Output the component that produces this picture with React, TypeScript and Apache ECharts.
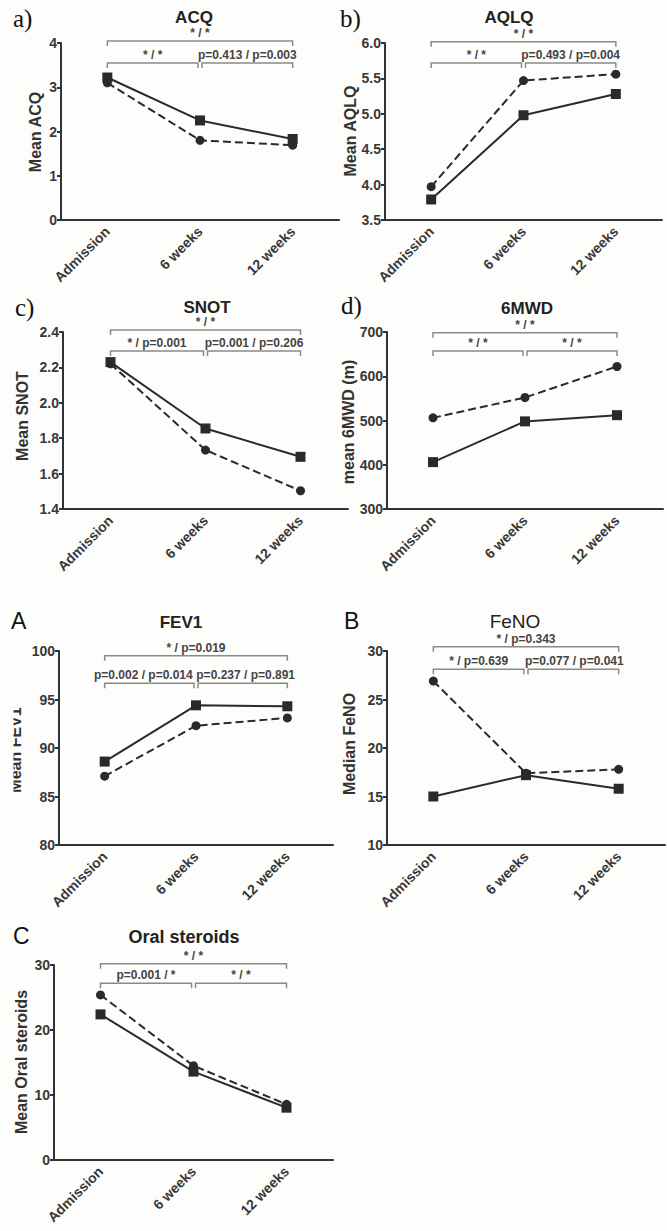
import React, { useEffect, useRef } from 'react';
import * as echarts from 'echarts';

// ---------- data ----------
const categories = ['Admission', '6 weeks', '12 weeks'];

const acqSolid = [3.22, 2.25, 1.83];
const acqDashed = [3.1, 1.8, 1.69];
const acqBracketLabels = ['* / *', '* / *', 'p=0.413 / p=0.003'];
const acqBracketLevels = [4.045, 3.548];

const aqlqSolid = [3.79, 4.98, 5.28];
const aqlqDashed = [3.97, 5.47, 5.56];
const aqlqBracketLabels = ['* / *', '* / *', 'p=0.493 / p=0.004'];
const aqlqBracketLevels = [6.018, 5.718];

const snotSolid = [2.23, 1.855, 1.695];
const snotDashed = [2.22, 1.733, 1.503];
const snotBracketLabels = ['* / *', '* / p=0.001', 'p=0.001 / p=0.206'];
const snotBracketLevels = [2.411, 2.293];

const mwdSolid = [406, 498, 512];
const mwdDashed = [506, 552, 622];
const mwdBracketLabels = ['* / *', '* / *', '* / *'];
const mwdBracketLevels = [698.4, 657];

const fev1Solid = [88.6, 94.4, 94.3];
const fev1Dashed = [87.1, 92.3, 93.1];
const fev1BracketLabels = ['* / p=0.019', 'p=0.002 / p=0.014', 'p=0.237 / p=0.891'];
const fev1BracketLevels = [99.52, 96.67];

const fenoSolid = [15.0, 17.2, 15.8];
const fenoDashed = [26.9, 17.4, 17.8];
const fenoBracketLabels = ['* / p=0.343', '* / p=0.639', 'p=0.077 / p=0.041'];
const fenoBracketLevels = [30.44, 28.11];

const steroidSolid = [22.4, 13.6, 8.05];
const steroidDashed = [25.4, 14.5, 8.56];
const steroidBracketLabels = ['* / *', 'p=0.001 / *', '* / *'];
const steroidBracketLevels = [30.2, 27.18];

// ---------- styling / layout ----------
const SANS = '"Liberation Sans", Arial, Helvetica, sans-serif';
const SERIF = '"Liberation Serif", "Times New Roman", serif';
const BG = '#fdfdfb';
const INK = '#2a2a2a';

type Panel = {
  solid: number[];
  dashed: number[];
  bracketLabels: string[];
  bracketLevels: number[];
  labelShift: number[];
  min: number;
  max: number;
  interval: number;
  decimals: number;
  grid: { left: number; top: number; width: number; height: number };
  title: string;
  titleX: number;
  titleY: number;
  titleFont: string;
  yName: string;
  yNameX: number;
  yNameY: number;
  tag: string;
  tagX: number;
  tagY: number;
  tagFont: string;
};

const panels: Panel[] = [
  {
    solid: acqSolid, dashed: acqDashed, bracketLabels: acqBracketLabels, bracketLevels: acqBracketLevels,
    labelShift: [0, 0, 0],
    min: 0, max: 4, interval: 1, decimals: 0,
    grid: { left: 61, top: 43, width: 278, height: 177 },
    title: 'ACQ', titleX: 194, titleY: 17, titleFont: `bold 17px ${SANS}`,
    yName: 'Mean ACQ', yNameX: 35, yNameY: 132,
    tag: 'a)', tagX: 13, tagY: 18, tagFont: `25px ${SERIF}`,
  },
  {
    solid: aqlqSolid, dashed: aqlqDashed, bracketLabels: aqlqBracketLabels, bracketLevels: aqlqBracketLevels,
    labelShift: [0, 0, 0],
    min: 3.5, max: 6, interval: 0.5, decimals: 1,
    grid: { left: 385, top: 43, width: 277, height: 177 },
    title: 'AQLQ', titleX: 509, titleY: 17, titleFont: `bold 17px ${SANS}`,
    yName: 'Mean AQLQ', yNameX: 350, yNameY: 131,
    tag: 'b)', tagX: 340, tagY: 18, tagFont: `25px ${SERIF}`,
  },
  {
    solid: snotSolid, dashed: snotDashed, bracketLabels: snotBracketLabels, bracketLevels: snotBracketLevels,
    labelShift: [0, 0, 0],
    min: 1.4, max: 2.4, interval: 0.2, decimals: 1,
    grid: { left: 63, top: 332, width: 285, height: 177 },
    title: 'SNOT', titleX: 207, titleY: 307, titleFont: `bold 17px ${SANS}`,
    yName: 'Mean SNOT', yNameX: 22.5, yNameY: 416,
    tag: 'c)', tagX: 15, tagY: 307, tagFont: `25px ${SERIF}`,
  },
  {
    solid: mwdSolid, dashed: mwdDashed, bracketLabels: mwdBracketLabels, bracketLevels: mwdBracketLevels,
    labelShift: [0, 0, 0],
    min: 300, max: 700, interval: 100, decimals: 0,
    grid: { left: 387, top: 332, width: 276, height: 177 },
    title: '6MWD', titleX: 527, titleY: 308, titleFont: `bold 17px ${SANS}`,
    yName: 'mean 6MWD (m)', yNameX: 348, yNameY: 422,
    tag: 'd)', tagX: 341, tagY: 305, tagFont: `25px ${SERIF}`,
  },
  {
    solid: fev1Solid, dashed: fev1Dashed, bracketLabels: fev1BracketLabels, bracketLevels: fev1BracketLevels,
    labelShift: [0, -6, 3],
    min: 80, max: 100, interval: 5, decimals: 0,
    grid: { left: 59, top: 651, width: 274, height: 194 },
    title: 'FEV1', titleX: 181, titleY: 622, titleFont: `bold 17px ${SANS}`,
    yName: 'Mean FEV1', yNameX: 15, yNameY: 750,
    tag: 'A', tagX: 11, tagY: 621, tagFont: `23px ${SANS}`,
  },
  {
    solid: fenoSolid, dashed: fenoDashed, bracketLabels: fenoBracketLabels, bracketLevels: fenoBracketLevels,
    labelShift: [0, 0, 1],
    min: 10, max: 30, interval: 5, decimals: 0,
    grid: { left: 387, top: 651, width: 278, height: 194 },
    title: 'FeNO', titleX: 515, titleY: 621, titleFont: `19px ${SANS}`,
    yName: 'Median FeNO', yNameX: 349.5, yNameY: 744,
    tag: 'B', tagX: 344, tagY: 621, tagFont: `23px ${SANS}`,
  },
  {
    solid: steroidSolid, dashed: steroidDashed, bracketLabels: steroidBracketLabels, bracketLevels: steroidBracketLevels,
    labelShift: [0, 0, 0],
    min: 0, max: 30, interval: 10, decimals: 0,
    grid: { left: 54, top: 965, width: 279, height: 195 },
    title: 'Oral steroids', titleX: 184, titleY: 937, titleFont: `bold 18px ${SANS}`,
    yName: 'Mean Oral steroids', yNameX: 21, yNameY: 1062,
    tag: 'C', tagX: 13, tagY: 936, tagFont: `23px ${SANS}`,
  },
];

function buildOption() {
  const grid: any[] = [];
  const xAxis: any[] = [];
  const yAxis: any[] = [];
  const series: any[] = [];
  const graphic: any[] = [];

  panels.forEach((p, i) => {
    grid.push({ ...p.grid, containLabel: false });
    xAxis.push({
      type: 'category',
      gridIndex: i,
      data: categories,
      boundaryGap: true,
      axisLine: { lineStyle: { color: '#333', width: 2 } },
      axisTick: { alignWithLabel: true, length: 6, lineStyle: { color: '#333', width: 2 } },
      axisLabel: {
        rotate: 45,
        margin: 9,
        fontSize: 14,
        fontWeight: 'bold',
        fontFamily: SANS,
        color: '#383838',
        interval: 0,
      },
      splitLine: { show: false },
    });
    yAxis.push({
      type: 'value',
      gridIndex: i,
      min: p.min,
      max: p.max,
      interval: p.interval,
      axisLine: { show: true, lineStyle: { color: '#333', width: 2 } },
      axisTick: { show: true, length: 4, lineStyle: { color: '#333', width: 2 } },
      axisLabel: {
        fontSize: 14,
        fontWeight: 'bold',
        fontFamily: SANS,
        color: '#383838',
        margin: 4,
        formatter: (v: number) => v.toFixed(p.decimals),
      },
      splitLine: { show: false },
    });

    series.push({
      type: 'line',
      xAxisIndex: i,
      yAxisIndex: i,
      data: p.solid,
      symbol: 'rect',
      symbolSize: 10,
      lineStyle: { color: INK, width: 2 },
      itemStyle: { color: INK },
      z: 3,
    });
    series.push({
      type: 'line',
      xAxisIndex: i,
      yAxisIndex: i,
      data: p.dashed,
      symbol: 'circle',
      symbolSize: 9,
      lineStyle: { color: INK, width: 2, type: [8, 4] },
      itemStyle: { color: INK },
      z: 3,
    });

    const labels = p.bracketLabels;
    const shifts = p.labelShift;
    series.push({
      type: 'custom',
      xAxisIndex: i,
      yAxisIndex: i,
      clip: false,
      silent: true,
      encode: { x: [0, 1], y: 2 },
      data: [
        [0, 2, p.bracketLevels[0]],
        [0, 1, p.bracketLevels[1]],
        [1, 2, p.bracketLevels[1]],
      ],
      renderItem: (params: any, api: any) => {
        const x1 = api.value(0);
        const x2 = api.value(1);
        const lv = api.value(2);
        const p1 = api.coord([x1, lv]);
        const p2 = api.coord([x2, lv]);
        let a = p1[0];
        let b = p2[0];
        const y = p1[1];
        if (x2 - x1 === 1) {
          if (x1 === 0) b -= 2;
          else a += 2;
        }
        return {
          type: 'group',
          children: [
            {
              type: 'polyline',
              shape: { points: [[a, y + 5], [a, y], [b, y], [b, y + 5]] },
              style: { stroke: '#8a8a8a', fill: null, lineWidth: 1.5 },
            },
            {
              type: 'text',
              x: (a + b) / 2 + shifts[params.dataIndex],
              y: y - 8,
              style: {
                text: labels[params.dataIndex],
                align: 'center',
                verticalAlign: 'middle',
                fontSize: 12,
                fontWeight: 'bold',
                fontFamily: SANS,
                fill: '#444',
              },
            },
          ],
        };
      },
      z: 2,
    });

    graphic.push({
      type: 'text',
      x: p.titleX,
      y: p.titleY,
      style: { text: p.title, font: p.titleFont, fill: '#222', align: 'center', verticalAlign: 'middle' },
    });
    graphic.push({
      type: 'text',
      x: p.tagX,
      y: p.tagY,
      style: { text: p.tag, font: p.tagFont, fill: '#111', align: 'left', verticalAlign: 'middle' },
    });
    graphic.push({
      type: 'text',
      x: p.yNameX,
      y: p.yNameY,
      rotation: Math.PI / 2,
      style: {
        text: p.yName,
        font: `bold 16px ${SANS}`,
        fill: '#333',
        align: 'center',
        verticalAlign: 'middle',
      },
    });
  });

  // the FEV1 axis title is cut at the left edge in the source figure
  graphic.push({
    type: 'rect',
    x: 0,
    y: 680,
    z: 100,
    shape: { width: 13.5, height: 140 },
    style: { fill: BG },
  });

  return {
    animation: false,
    backgroundColor: BG,
    grid,
    xAxis,
    yAxis,
    series,
    graphic,
  };
}

export default function App() {
  const ref = useRef<HTMLDivElement>(null);
  useEffect(() => {
    if (!ref.current) return;
    const chart = echarts.init(ref.current, undefined, { renderer: 'svg' });
    chart.setOption(buildOption() as any);
    return () => chart.dispose();
  }, []);
  return (
    <div
      ref={ref}
      style={{ position: 'absolute', left: 0, top: 0, width: 667, height: 1231, background: BG }}
    />
  );
}
